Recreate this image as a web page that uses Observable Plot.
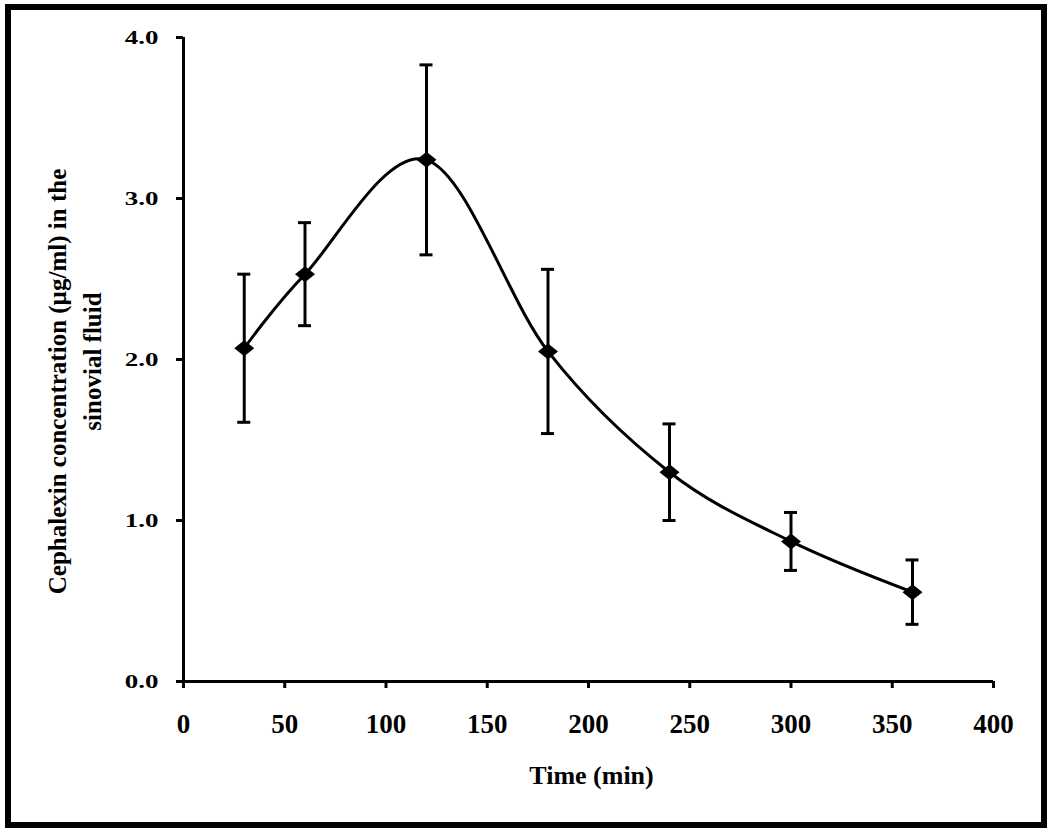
<!DOCTYPE html>
<html>
<head>
<meta charset="utf-8">
<script src="https://cdn.jsdelivr.net/npm/d3@7"></script>
<script src="https://cdn.jsdelivr.net/npm/@observablehq/plot@0.6"></script>
<style>
  html, body { margin: 0; padding: 0; background: #fff; }
  #wrap { position: relative; width: 1050px; height: 833px; overflow: hidden; background: #fff; }
  #wrap svg { position: absolute; left: 0; top: 0; }
  #border { position: absolute; left: 5px; top: 4px; width: 1042px; height: 824px; border: 6px solid #000; box-sizing: border-box; pointer-events: none; }
</style>
</head>
<body>
<div id="wrap"><div id="border"></div></div>
<script>
// Time points (min)
const times = [30, 60, 120, 180, 240, 300, 360];
// Mean cephalexin concentration in synovial fluid (µg/ml)
const conc = [2.07, 2.53, 3.24, 2.05, 1.30, 0.87, 0.555];
// Standard deviation (error bar half-length)
const sd = [0.46, 0.32, 0.59, 0.51, 0.30, 0.18, 0.20];
// Axis ticks
const xTicks = [0, 50, 100, 150, 200, 250, 300, 350, 400];
const yTicks = [0, 1, 2, 3, 4];
// Texts
const xTitle = "Time (min)";
const yTitle1 = "Cephalexin concentration (µg/ml) in the";
const yTitle2 = "sinovial fluid";

const data = times.map((t, i) => ({t, c: conc[i], sd: sd[i]}));

const font = "'Liberation Serif', 'Times New Roman', Times, serif";

const diamond = {
  draw(ctx, size) {
    const r = Math.sqrt(size / Math.PI);
    ctx.moveTo(0, -r * 0.8);
    ctx.lineTo(r, 0);
    ctx.lineTo(0, r * 0.8);
    ctx.lineTo(-r, 0);
    ctx.closePath();
  }
};

const chart = Plot.plot({
  width: 1050,
  height: 833,
  marginLeft: 183,
  marginRight: 57,
  marginTop: 37,
  marginBottom: 152,
  style: {fontFamily: font, fontWeight: "bold", background: "transparent", color: "#000"},
  x: {domain: [0, 400]},
  y: {domain: [0, 4]},
  marks: [
    Plot.axisX({ticks: xTicks, tickSize: 7, tickPadding: 25, strokeWidth: 3, fontSize: 27, fontWeight: "bold", label: null}),
    Plot.axisY({ticks: yTicks, tickSize: 7, tickPadding: 18, strokeWidth: 3, fontSize: 27, fontWeight: "bold", tickFormat: d => d.toFixed(1), label: null}),
    Plot.ruleX([0], {stroke: "#000", strokeWidth: 3}),
    Plot.ruleY([0], {stroke: "#000", strokeWidth: 3}),
    Plot.ruleX(data, {x: "t", y1: d => d.c - d.sd, y2: d => d.c + d.sd, stroke: "#000", strokeWidth: 3}),
    Plot.ruleY(data, {x1: "t", x2: "t", y: d => d.c + d.sd, insetLeft: -6.5, insetRight: -6.5, stroke: "#000", strokeWidth: 3}),
    Plot.ruleY(data, {x1: "t", x2: "t", y: d => d.c - d.sd, insetLeft: -6.5, insetRight: -6.5, stroke: "#000", strokeWidth: 3}),
    Plot.line(data, {x: "t", y: "c", curve: "cardinal", tension: 0, stroke: "#000", strokeWidth: 3}),
    Plot.dot(data, {x: "t", y: "c", symbol: diamond, r: 10, fill: "#000", stroke: "none"}),
    Plot.text([xTitle], {frameAnchor: "bottom", dx: 3, dy: 102, lineAnchor: "bottom", fontSize: 26, fontWeight: "bold"}),
    Plot.text([yTitle1], {frameAnchor: "left", textAnchor: "middle", rotate: -90, dx: -118, dy: 22, lineAnchor: "bottom", fontSize: 25, fontWeight: "bold"}),
    Plot.text([yTitle2], {frameAnchor: "left", textAnchor: "middle", rotate: -90, dx: -83, dy: 2, lineAnchor: "bottom", fontSize: 25, fontWeight: "bold"})
  ]
});

// squash y tick labels vertically as in the reference
chart.querySelectorAll('[aria-label="y-axis tick label"] text').forEach(t => {
  const tr = t.getAttribute("transform");
  if (tr) t.setAttribute("transform", tr + " scale(1,0.7)");
});

document.getElementById("wrap").insertBefore(chart, document.getElementById("border"));
</script>
</body>
</html>
